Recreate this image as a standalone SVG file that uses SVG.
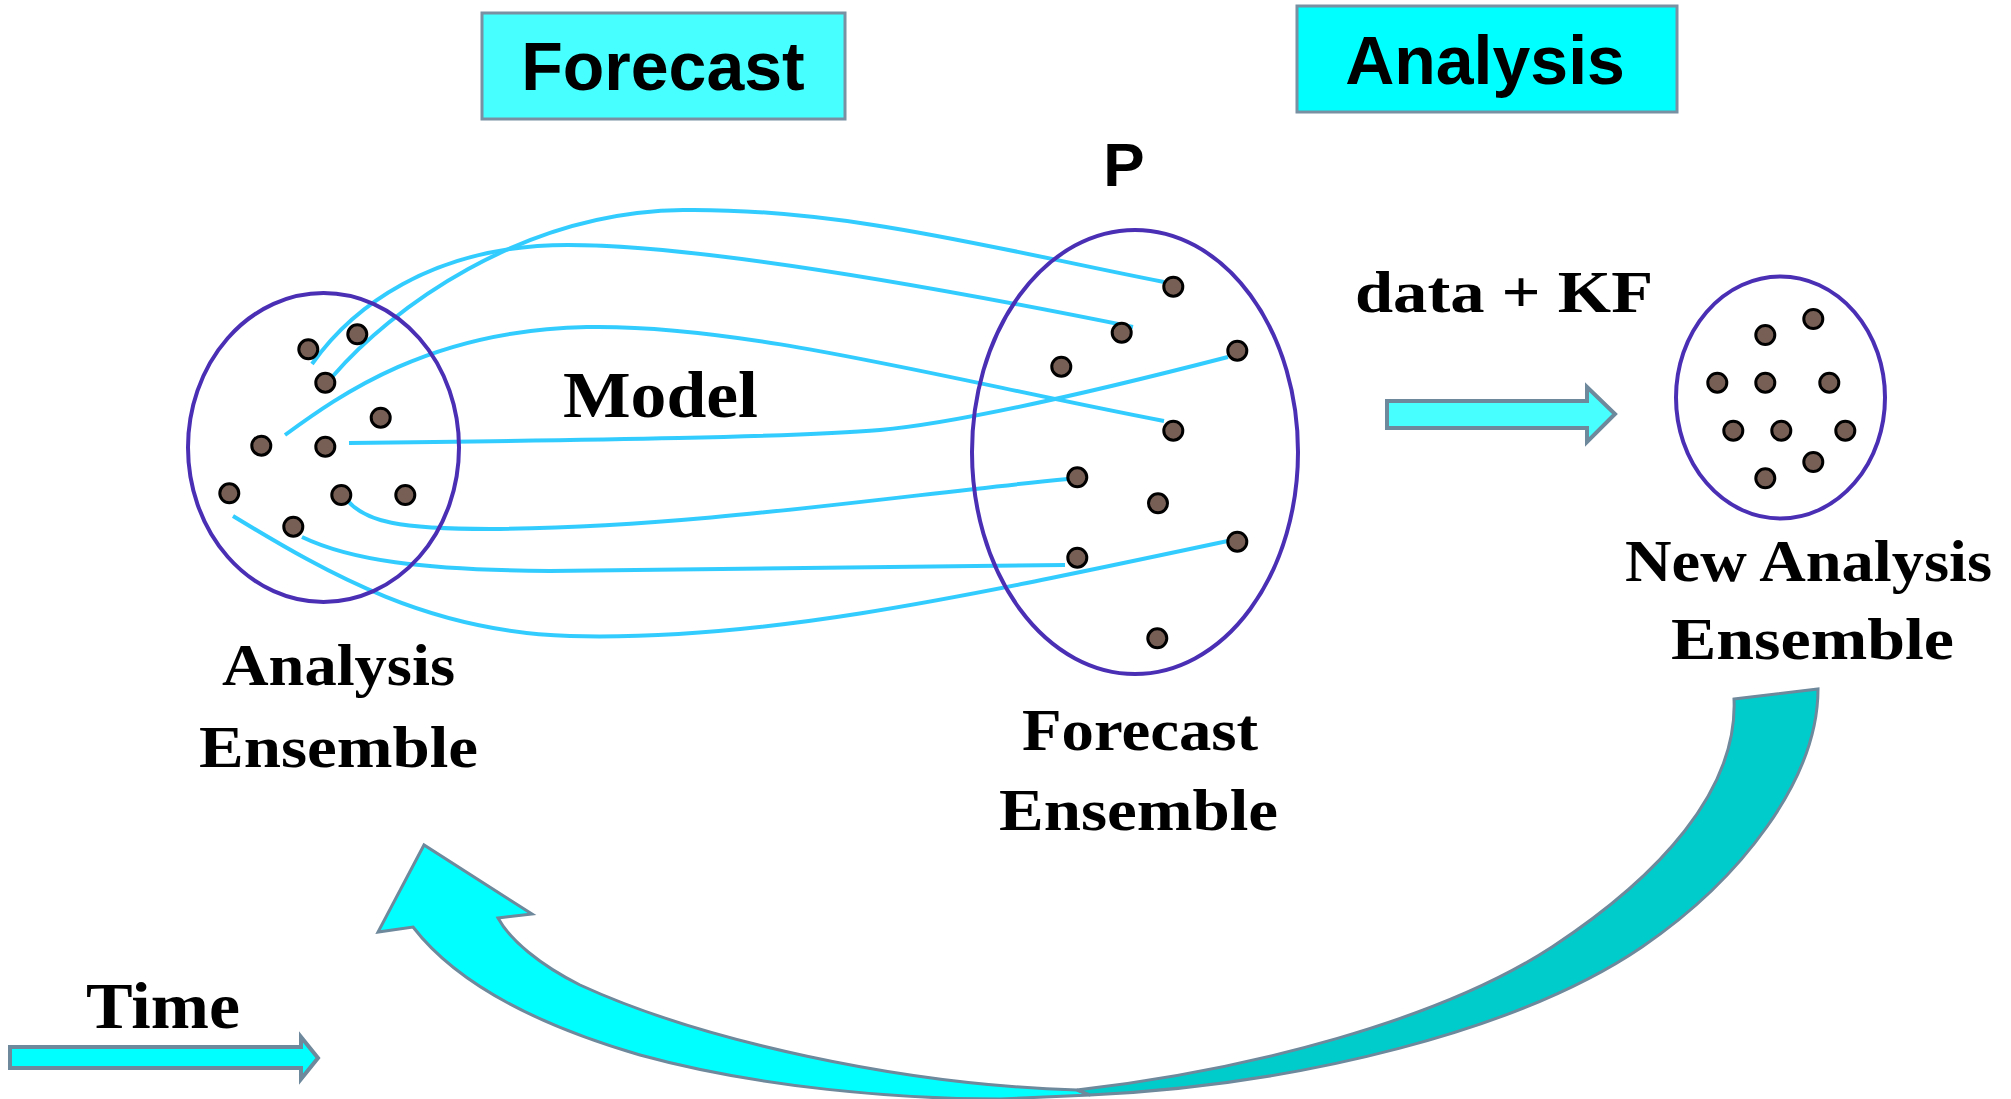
<svg xmlns="http://www.w3.org/2000/svg" width="2011" height="1099" viewBox="0 0 2011 1099">
  <style>
    .box { stroke: #7890a2; stroke-width: 3; }
    .title { font-family: "Liberation Sans", Arial, sans-serif; font-weight: bold; fill: #000; text-anchor: middle; }
    .label { font-family: "Liberation Serif", "Times New Roman", serif; font-weight: bold; fill: #000; }
    .ens { fill: none; stroke: #4a2fb5; stroke-width: 4; }
    .member { fill: #775f56; stroke: #000; stroke-width: 3; }
    .traj { fill: none; stroke: #33ccff; stroke-width: 4; stroke-linecap: butt; }
    .block { stroke: #6e889c; stroke-width: 4; stroke-linejoin: miter; }
    .cycle { stroke: #6e889c; stroke-width: 3; stroke-linejoin: miter; }
  </style>

  <rect width="2011" height="1099" fill="#ffffff"/>

  <!-- phase headers -->
  <g id="forecast-header">
    <rect class="box" x="482" y="13" width="363" height="106" fill="#47ffff"/>
    <text class="title" x="663" y="90" font-size="68">Forecast</text>
  </g>
  <g id="analysis-header">
    <rect class="box" x="1297" y="6" width="380" height="106" fill="#00ffff"/>
    <text class="title" x="1485" y="84" font-size="68">Analysis</text>
  </g>

  <!-- model trajectories carrying each member forward -->
  <g id="connectors">
    <path class="traj" d="M312,364 C350,310 430,245 568,245 C706,245 950,290 1133,327"/>
    <path class="traj" d="M333,376 C390,310 520,212 683,210 C846,208 1000,250 1164,282"/>
    <path class="traj" d="M285,435 C340,395 430,330 587,327 C744,324 950,380 1164,421"/>
    <path class="traj" d="M349,443 C600,440 800,437 880,430 C960,423 1100,390 1228,357"/>
    <path class="traj" d="M347,500 C365,522 400,529 490,529 C700,527 900,495 1068,479"/>
    <path class="traj" d="M302,537 C350,560 420,570 550,571 L1065,565"/>
    <path class="traj" d="M233,516 C330,575 430,632 570,636 C760,641 950,600 1228,541"/>
  </g>

  <!-- analysis ensemble -->
  <g id="analysis-ensemble">
    <ellipse class="ens" cx="323.5" cy="447.5" rx="135.5" ry="154.5"/>
    <circle class="member" cx="308.3" cy="349.3" r="9.5"/>
    <circle class="member" cx="357.3" cy="334.3" r="9.5"/>
    <circle class="member" cx="325.3" cy="382.7" r="9.5"/>
    <circle class="member" cx="380.7" cy="417.7" r="9.5"/>
    <circle class="member" cx="261.3" cy="445.7" r="9.5"/>
    <circle class="member" cx="325.3" cy="446.7" r="9.5"/>
    <circle class="member" cx="229.3" cy="493.3" r="9.5"/>
    <circle class="member" cx="341.3" cy="495" r="9.5"/>
    <circle class="member" cx="405.3" cy="495" r="9.5"/>
    <circle class="member" cx="293.3" cy="526.7" r="9.5"/>
    <text class="label" x="222" y="685" font-size="60" textLength="233" lengthAdjust="spacingAndGlyphs">Analysis</text>
    <text class="label" x="199" y="767" font-size="60" textLength="279" lengthAdjust="spacingAndGlyphs">Ensemble</text>
  </g>

  <g id="model-label">
    <text class="label" x="563" y="417" font-size="65" textLength="195" lengthAdjust="spacingAndGlyphs">Model</text>
  </g>

  <!-- forecast ensemble -->
  <g id="forecast-ensemble">
    <ellipse class="ens" cx="1135" cy="452" rx="163" ry="222"/>
    <circle class="member" cx="1173.3" cy="286.7" r="9.5"/>
    <circle class="member" cx="1121.7" cy="332.7" r="9.5"/>
    <circle class="member" cx="1061.3" cy="366.7" r="9.5"/>
    <circle class="member" cx="1237.3" cy="350.7" r="9.5"/>
    <circle class="member" cx="1173.3" cy="430.7" r="9.5"/>
    <circle class="member" cx="1077.3" cy="477.3" r="9.5"/>
    <circle class="member" cx="1158" cy="503.3" r="9.5"/>
    <circle class="member" cx="1077.3" cy="557.7" r="9.5"/>
    <circle class="member" cx="1237.3" cy="541.7" r="9.5"/>
    <circle class="member" cx="1157.3" cy="638.3" r="9.5"/>
    <text class="title" x="1124" y="186" font-size="62">P</text>
    <text class="label" x="1022" y="750" font-size="60" textLength="236" lengthAdjust="spacingAndGlyphs">Forecast</text>
    <text class="label" x="999" y="830" font-size="60" textLength="279" lengthAdjust="spacingAndGlyphs">Ensemble</text>
  </g>

  <!-- assimilation step -->
  <g id="update-step">
    <text class="label" x="1355" y="312" font-size="60" textLength="298" lengthAdjust="spacingAndGlyphs">data + KF</text>
    <polygon class="block" fill="#47ffff" points="1387,401 1587,401 1587,387 1615,414 1587,442 1587,428 1387,428"/>
  </g>

  <!-- new analysis ensemble -->
  <g id="new-analysis-ensemble">
    <ellipse class="ens" cx="1780.5" cy="397.5" rx="104.5" ry="121"/>
    <circle class="member" cx="1813.3" cy="319" r="9.5"/>
    <circle class="member" cx="1765.3" cy="335" r="9.5"/>
    <circle class="member" cx="1717.3" cy="382.7" r="9.5"/>
    <circle class="member" cx="1765.3" cy="382.7" r="9.5"/>
    <circle class="member" cx="1829.3" cy="382.7" r="9.5"/>
    <circle class="member" cx="1733.3" cy="430.7" r="9.5"/>
    <circle class="member" cx="1781.3" cy="430.7" r="9.5"/>
    <circle class="member" cx="1845.3" cy="430.7" r="9.5"/>
    <circle class="member" cx="1813.3" cy="462" r="9.5"/>
    <circle class="member" cx="1765.3" cy="478.3" r="9.5"/>
    <text class="label" x="1625" y="581" font-size="60" textLength="367" lengthAdjust="spacingAndGlyphs">New Analysis</text>
    <text class="label" x="1671" y="659" font-size="60" textLength="283" lengthAdjust="spacingAndGlyphs">Ensemble</text>
  </g>

  <!-- cycle back: new analysis becomes next starting ensemble -->
  <g id="cycle-arrow">
    <path class="cycle" fill="#00ffff" d="M1077,1090 C900,1085 700,1040 580,985 C540,965 510,940 498,918 L532,914 L424,845 L378,932 L413,927 C450,975 520,1020 640,1055 C760,1088 900,1099 1000,1099 L1090,1095 Z"/>
    <path class="cycle" fill="#00cccc" d="M1734,699 L1818,689 C1818,780 1740,880 1642,947 C1520,1030 1300,1085 1090,1095 L1077,1090 C1250,1070 1440,1020 1552,947 C1660,876 1738,790 1734,699 Z"/>
  </g>

  <!-- time direction -->
  <g id="time-axis">
    <text class="label" x="86" y="1028" font-size="66" textLength="154" lengthAdjust="spacingAndGlyphs">Time</text>
    <polygon class="block" fill="#00ffff" points="10,1047 301,1047 301,1037 318,1058 301,1079 301,1068 10,1068"/>
  </g>
</svg>
